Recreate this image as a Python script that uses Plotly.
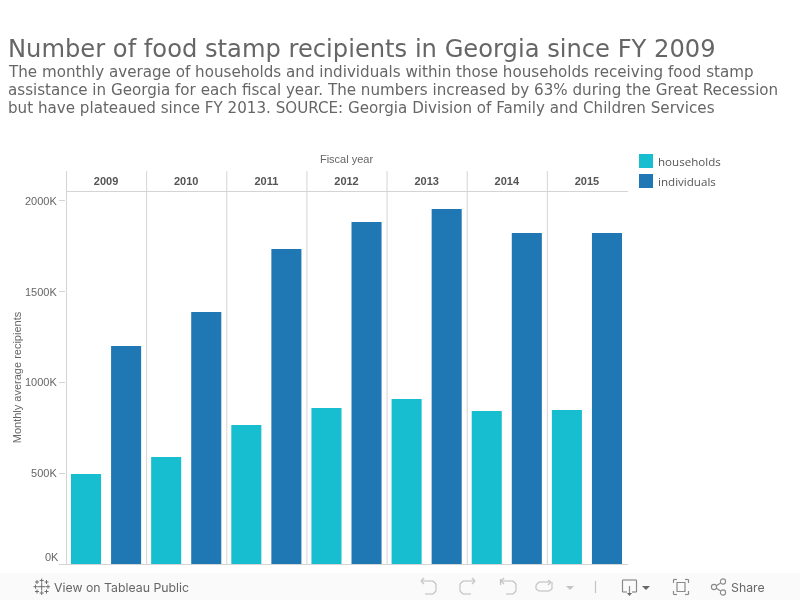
import plotly.graph_objects as go

W, H = 800, 600
years = ["2009", "2010", "2011", "2012", "2013", "2014", "2015"]
households = [496000, 590000, 766000, 860000, 909000, 843000, 848000]
individuals = [1201000, 1388000, 1735000, 1884000, 1956000, 1824000, 1824000]
y_ticks = [0, 500000, 1000000, 1500000, 2000000]
y_labels = ["0K", "500K", "1000K", "1500K", "2000K"]
series_names = ["households", "individuals"]
series_colors = ["#17becf", "#1f77b4"]
title = "Number of food stamp recipients in Georgia since FY 2009"
subtitle = [
    "The monthly average of households and individuals within those households receiving food stamp",
    "assistance in Georgia for each fiscal year. The numbers increased by 63% during the Great Recession",
    "but have plateaued since FY 2013. SOURCE: Georgia Division of Family and Children Services",
]

GRID = "#d4d4d4"
TEXT = "#666666"
ICON = "#8a8a8a"
DIM = "#c4c4c4"
AX = "Liberation Sans"
L, R, T, B = 66.0, 627.0, 191.0, 564.0
Y_MAX = 2055000
panel = (R - L) / len(years)


def px(x):
    return x / W


def py(y):
    return 1 - y / H


def dom_x(x):
    return (x - L) / (R - L)


def dom_y(y):
    return (B - y) / (B - T)


fig = go.Figure()
for name, vals, color in zip(series_names, [households, individuals], series_colors):
    fig.add_bar(name=name, x=years, y=vals, marker=dict(color=color, line=dict(width=0)), showlegend=False)

shapes = []
for i in range(len(years) + 1):
    shapes.append(dict(type="line", xref="x", yref="paper", x0=i - 0.5 + 0.5 / panel, x1=i - 0.5 + 0.5 / panel,
                       y0=dom_y(B + 0.5), y1=dom_y(171), line=dict(color=GRID, width=1), layer="above"))
shapes.append(dict(type="line", xref="paper", yref="paper", x0=0, x1=dom_x(R + 1), y0=dom_y(T + 0.5), y1=dom_y(T + 0.5),
                   line=dict(color=GRID, width=1)))
shapes.append(dict(type="line", xref="paper", yref="paper", x0=dom_x(61), x1=dom_x(R + 1), y0=dom_y(B + 0.5),
                   y1=dom_y(B + 0.5), line=dict(color=GRID, width=1)))


def page_rect(x0, y0, x1, y1, **k):
    return dict(type="rect", xref="paper", yref="paper", x0=dom_x(x0), x1=dom_x(x1), y0=dom_y(y1), y1=dom_y(y0), **k)


def page_line(x0, y0, x1, y1, color=ICON, width=1.2):
    return dict(type="line", xref="paper", yref="paper", x0=dom_x(x0), x1=dom_x(x1),
                y0=dom_y(y0), y1=dom_y(y1), line=dict(color=color, width=width))


def polyline(points, color=ICON, width=1.2):
    return [page_line(*points[i], *points[i + 1], color=color, width=width) for i in range(len(points) - 1)]


def tri(x0, x1, xm, y0, ym, color):
    return dict(type="path", xref="paper", yref="paper", line=dict(width=0), fillcolor=color,
                path=f"M {dom_x(x0)},{dom_y(y0)} L {dom_x(x1)},{dom_y(y0)} L {dom_x(xm)},{dom_y(ym)} Z")


shapes.append(page_rect(0, 573, 800, 600, fillcolor="#fafafa", line=dict(width=0), layer="below"))

# Tableau mark
for cx, cy, s in [(41.7, 586.7, 4), (35.5, 586.7, 2), (48, 586.7, 2), (41.7, 580.5, 2), (41.7, 593, 2),
                  (37, 582, 2), (46.5, 582, 2), (37, 591.5, 2), (46.5, 591.5, 2)]:
    shapes.append(page_line(cx - s, cy, cx + s, cy, color="#6e6e6e", width=1))
    shapes.append(page_line(cx, cy - s, cx, cy + s, color="#6e6e6e", width=1))

# Undo / redo / revert / pause
shapes += polyline([(421, 581), (433, 581), (436, 584), (436, 591), (433, 594), (425, 594)], DIM)
shapes += polyline([(424, 578), (421, 581), (424, 584)], DIM)
shapes += polyline([(475, 581), (463, 581), (460, 584), (460, 591), (463, 594), (471, 594)], DIM)
shapes += polyline([(472, 578), (475, 581), (472, 584)], DIM)
shapes += polyline([(501, 581), (513, 581), (516, 584), (516, 591), (513, 594), (506, 594)], DIM)
shapes += polyline([(504, 578), (501, 581), (504, 584)], DIM)
shapes.append(page_line(500.5, 579, 500.5, 585, DIM))
shapes += polyline([(551, 582), (539, 582), (536, 585), (536, 589), (539, 591), (549, 591), (552, 589), (552, 582)], DIM)
shapes += polyline([(548, 580), (551, 582), (548, 585)], DIM)
shapes.append(tri(566, 574, 570, 586, 590, DIM))
shapes.append(page_line(595.5, 581, 595.5, 593, DIM))
# Download
shapes += polyline([(627, 592), (622.5, 592), (622.5, 580), (636.5, 580), (636.5, 592), (632, 592)])
shapes.append(page_line(629.5, 586, 629.5, 594))
shapes.append(tri(627, 632, 629.5, 593, 596, "#666666"))
shapes.append(tri(642, 650, 646, 586, 590, "#666666"))
# Fullscreen
shapes += polyline([(677, 579.5), (673.5, 579.5), (673.5, 583)])
shapes += polyline([(685, 579.5), (688.5, 579.5), (688.5, 583)])
shapes += polyline([(677, 594.5), (673.5, 594.5), (673.5, 591)])
shapes += polyline([(685, 594.5), (688.5, 594.5), (688.5, 591)])
shapes.append(page_rect(677, 582.5, 685, 591.5, line=dict(color=ICON, width=1.2)))
# Share
for cx, cy, r in [(714, 587, 2.6), (723, 581.5, 2.6), (723, 592.5, 2.6)]:
    shapes.append(dict(type="circle", xref="paper", yref="paper", x0=dom_x(cx - r), x1=dom_x(cx + r),
                       y0=dom_y(cy + r), y1=dom_y(cy - r), line=dict(color=ICON, width=1.1)))
shapes.append(page_line(716.3, 585.7, 720.7, 583, ICON, 1.1))
shapes.append(page_line(716.3, 588.3, 720.7, 591, ICON, 1.1))

# Legend swatches
for i, color in enumerate(series_colors):
    shapes.append(page_rect(639, 154 + 20 * i, 653, 168 + 20 * i, fillcolor=color, line=dict(width=0)))


def note(text, x, y, size, color=TEXT, family="DejaVu Sans", anchor="left"):
    return dict(text=text, xref="paper", yref="paper", x=dom_x(x), y=dom_y(y), xanchor=anchor,
                yanchor="middle", showarrow=False, font=dict(family=family, size=size, color=color))


annotations = [note(line, 5.5, 72 + i * 18, 15.14) for i, line in enumerate(subtitle)]
annotations.append(note("View on Tableau Public", 52, 587, 12.3, "#666666", "Inter"))
annotations.append(note("Share", 729, 587, 12.3, "#666666", "Inter"))
annotations.append(note(y_labels[0], 61, 557, 11, TEXT, AX, "right"))
for i, name in enumerate(series_names):
    annotations.append(note(name, 656, 161.5 + 20 * i, 11.6, "#555555", "Open Sans"))

fig.update_layout(
    width=W, height=H,
    margin=dict(l=L, r=W - R, t=T, b=H - B, pad=0, autoexpand=False),
    paper_bgcolor="white", plot_bgcolor="white",
    barmode="group", bargap=0, bargroupgap=0.25,
    title=dict(text=title, x=px(8), xref="container", xanchor="left", y=py(49), yanchor="middle",
               font=dict(family="DejaVu Sans", size=24.2, color=TEXT)),
    showlegend=False,
    shapes=shapes,
    annotations=annotations,
    xaxis=dict(side="top", type="category", categoryorder="array", categoryarray=years,
               range=[-0.5, len(years) - 0.5], ticks="", showgrid=False, zeroline=False, showline=False,
               tickfont=dict(family=AX, size=11, color="#555555", weight="bold"), tickangle=0, ticklabelstandoff=3,
               title=dict(text="Fiscal year", standoff=8, font=dict(family=AX, size=11, color=TEXT))),
    yaxis=dict(range=[0, Y_MAX], tickvals=y_ticks,
               ticktext=[""] + y_labels[1:], ticks="outside", ticklen=6,
               tickcolor=GRID, tickwidth=1, showgrid=False, zeroline=False, showline=False,
               tickfont=dict(family=AX, size=11, color=TEXT),
               title=dict(text="Monthly average recipients", standoff=1, font=dict(family=AX, size=11, color=TEXT))),
)

fig.write_html("out.html", config=dict(displayModeBar=False),
               post_script="document.body.style.margin='0';"
                           "document.querySelectorAll('.plotly-graph-div').forEach(function(d){d.style.willChange='transform';});")
